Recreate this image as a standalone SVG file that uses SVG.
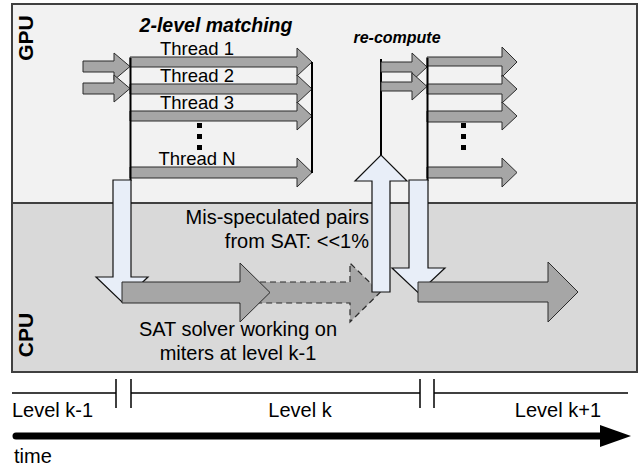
<svg xmlns="http://www.w3.org/2000/svg" width="640" height="466" viewBox="0 0 640 466">
<style>
text{font-family:"Liberation Sans",Arial,sans-serif;fill:#000}
.ga{fill:#a6a6a6;stroke:#2b2b2b;stroke-width:1}
.gd{fill:#a6a6a6;stroke:#2b2b2b;stroke-width:1.2;stroke-dasharray:6 4}
.ba{fill:#e8eef8;stroke:#111;stroke-width:1.2}
.vl{stroke:#000;stroke-width:2;fill:none}
.tl{stroke:#000;stroke-width:1.5;fill:none}
.lbl{font-size:20px}
.th{font-size:18.5px;text-anchor:middle}
.bi{font-weight:bold;font-style:italic}
.dot{fill:#000}
</style>
<g id="background">
<rect x="12" y="4" width="625" height="199" fill="#f2f2f2"/>
<rect x="12" y="203" width="625" height="169" fill="#d9d9d9"/>
<rect x="12" y="4" width="625" height="368" fill="none" stroke="#404040" stroke-width="2"/>
<line x1="12" y1="203" x2="637" y2="203" stroke="#404040" stroke-width="2"/>
</g>
<g id="gpu-label"><text x="0" y="0" transform="translate(33,38) rotate(-90)" text-anchor="middle" font-size="21" font-weight="bold">GPU</text></g>
<g id="cpu-label"><text x="0" y="0" transform="translate(33,335) rotate(-90)" text-anchor="middle" font-size="21" font-weight="bold">CPU</text></g>
<g id="title-matching"><text x="216" y="32" text-anchor="middle" font-size="19.5" class="bi">2-level matching</text></g>
<g id="title-recompute"><text x="397" y="43" text-anchor="middle" font-size="16" class="bi">re-compute</text></g>
<g id="connectors">
<polygon class="ga" points="83,61 114,61 114,53 130,66.5 114,80 114,72 83,72"/>
<polygon class="ga" points="83,83 114,83 114,75 130,88.5 114,102 114,94 83,94"/>
<polygon class="ga" points="130,57 297,57 297,48 312,62 297,76 297,67 130,67"/>
<polygon class="ga" points="130,84 297,84 297,75 312,89 297,103 297,94 130,94"/>
<polygon class="ga" points="130,111 297,111 297,102 312,116 297,130 297,121 130,121"/>
<polygon class="ga" points="130,167 297,167 297,158 312,172.5 297,187 297,178 130,178"/>
<line class="vl" x1="130.5" y1="58" x2="130.5" y2="181"/>
<line class="vl" x1="312" y1="62" x2="312" y2="173"/>
<polygon class="ba" points="113,180 131,180 131,277 148,277 122,302 96,277 113,277"/>
<polygon class="gd" points="240,282 350,282 350,263 380,292.5 350,322 350,303 240,303"/>
<polygon class="ga" points="122,282 240,282 240,263 270,292.5 240,322 240,303 122,303"/>
<polygon class="ba" points="372,292 390,292 390,181 407,181 381,155 355,181 372,181"/>
<line class="vl" x1="381" y1="59" x2="381" y2="155"/>
<polygon class="ga" points="381,62 412,62 412,53 427,67 412,81 412,72 381,72"/>
<polygon class="ga" points="381,82 412,82 412,73 427,86.5 412,100 412,91 381,91"/>
<polygon class="ga" points="427,57 502,57 502,47 517,62 502,77 502,66 427,66"/>
<polygon class="ga" points="427,84 502,84 502,75 517,89 502,103 502,94 427,94"/>
<polygon class="ga" points="427,111 502,111 502,102 517,116 502,130 502,122 427,122"/>
<polygon class="ga" points="427,167 502,167 502,158 517,172.5 502,187 502,178 427,178"/>
<line class="vl" x1="427.5" y1="58" x2="427.5" y2="181"/>
<polygon class="ba" points="409,180 428,180 428,268 445,268 418.5,293 392,268 409,268"/>
<polygon class="ga" points="418,282 548,282 548,262 578,292 548,322 548,302 418,302"/>
</g>
<g id="threads">
<text class="th" x="197" y="55">Thread 1</text>
<text class="th" x="197" y="82">Thread 2</text>
<text class="th" x="197" y="109">Thread 3</text>
<text class="th" x="197" y="165">Thread N</text>
<rect class="dot" x="197" y="123" width="5" height="5"/>
<rect class="dot" x="197" y="134" width="5" height="5"/>
<rect class="dot" x="197" y="145" width="5" height="5"/>
<rect class="dot" x="461" y="123" width="5" height="5"/>
<rect class="dot" x="461" y="134" width="5" height="5"/>
<rect class="dot" x="461" y="145" width="5" height="5"/>
</g>
<g id="misspec-note">
<text class="lbl" x="369" y="224" text-anchor="end">Mis-speculated pairs</text>
<text class="lbl" x="369" y="248" text-anchor="end">from SAT: &lt;&lt;1%</text>
</g>
<g id="sat-note">
<text class="lbl" x="238" y="336" text-anchor="middle">SAT solver working on</text>
<text class="lbl" x="238" y="360" text-anchor="middle">miters at level k-1</text>
</g>
<g id="timeline">
<line class="tl" x1="12" y1="393" x2="116" y2="393"/>
<line class="tl" x1="116" y1="379" x2="116" y2="408"/>
<line class="tl" x1="131" y1="379" x2="131" y2="408"/>
<line class="tl" x1="131" y1="393" x2="420" y2="393"/>
<line class="tl" x1="420" y1="379" x2="420" y2="408"/>
<line class="tl" x1="434" y1="379" x2="434" y2="408"/>
<line class="tl" x1="434" y1="393" x2="628" y2="393"/>
<text class="lbl" x="12" y="417">Level k-1</text>
<text class="lbl" x="300" y="417" text-anchor="middle">Level k</text>
<text class="lbl" x="601" y="417" text-anchor="end">Level k+1</text>
</g>
<g id="time-axis">
<line x1="16" y1="436" x2="602" y2="436" stroke="#000" stroke-width="7" stroke-linecap="round"/>
<polygon points="600,425 631,436 600,447" fill="#000"/>
<text class="lbl" x="14" y="463">time</text>
</g>
</svg>
